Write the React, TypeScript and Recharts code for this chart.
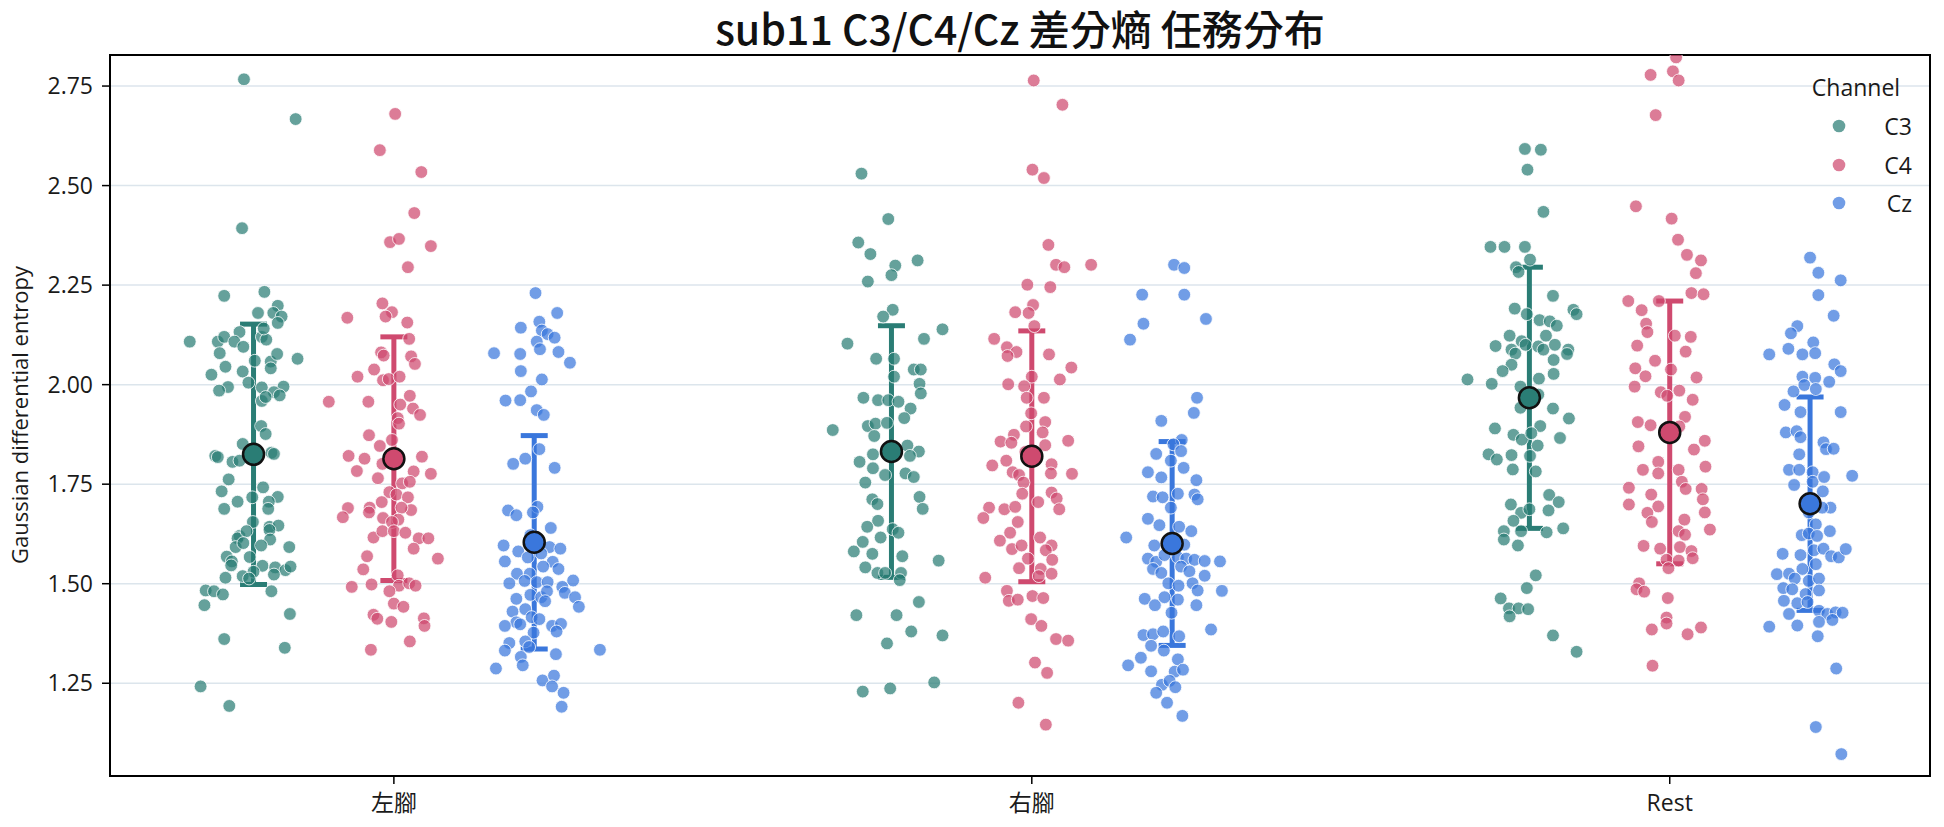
import React from 'react';
import { ComposedChart, Scatter, XAxis, YAxis, CartesianGrid, ErrorBar, ReferenceArea } from 'recharts';

// ---- categories / axes ----
const CONDITIONS = ['左腳', '右腳', 'Rest'];
const CHANNELS = ['C3', 'C4', 'Cz'];
const CHANNEL_SHIFT = [-0.22, 0, 0.22];
const Y_TICKS = [1.25, 1.5, 1.75, 2.0, 2.25, 2.5, 2.75];
const X_DOMAIN: [number, number] = [-0.445, 2.408];
const Y_DOMAIN: [number, number] = [1.017, 2.828];

// ---- per-trial entropy values: [jitter (category units), value] ----
const leftC3: [number, number][] = [[-0.015,2.767],[0.066,2.667],[-0.018,2.393],[-0.046,2.223],[0.017,2.233],[0.038,2.198],[0.007,2.180],[0.031,2.180],[0.044,2.171],[0.038,2.155],[-0.100,2.108],[-0.056,2.108],[-0.046,2.120],[-0.022,2.132],[-0.030,2.108],[-0.016,2.095],[0.013,2.120],[0.020,2.113],[0.016,2.141],[-0.053,2.079],[0.002,2.060],[0.027,2.058],[0.037,2.077],[0.069,2.065],[-0.044,2.045],[-0.017,2.033],[-0.066,2.025],[0.027,2.041],[-0.040,1.994],[-0.054,1.985],[-0.008,2.005],[0.013,1.993],[0.047,1.995],[0.032,1.981],[0.041,1.973],[0.013,1.959],[0.019,1.969],[0.012,1.896],[0.019,1.876],[-0.017,1.851],[-0.060,1.821],[-0.056,1.818],[-0.033,1.806],[-0.022,1.809],[0.028,1.829],[0.032,1.826],[-0.039,1.762],[-0.050,1.732],[0.015,1.742],[-0.025,1.706],[-0.002,1.717],[0.038,1.718],[0.024,1.706],[-0.046,1.688],[0.023,1.688],[-0.001,1.655],[0.025,1.643],[0.039,1.646],[0.025,1.635],[-0.022,1.620],[-0.025,1.614],[-0.011,1.632],[0.026,1.611],[0.012,1.596],[-0.028,1.592],[0.056,1.592],[-0.016,1.602],[-0.042,1.568],[-0.034,1.556],[-0.006,1.567],[-0.035,1.546],[0.014,1.545],[0.034,1.541],[0.050,1.534],[0.058,1.543],[0.032,1.523],[0.000,1.530],[-0.017,1.519],[-0.044,1.515],[-0.007,1.513],[-0.075,1.483],[-0.062,1.481],[-0.048,1.473],[0.028,1.481],[-0.077,1.446],[0.057,1.424],[-0.046,1.361],[0.049,1.339],[-0.083,1.242],[-0.038,1.193]];

const leftC4: [number, number][] = [[0.002,2.680],[-0.022,2.589],[0.043,2.534],[0.032,2.431],[-0.006,2.358],[0.008,2.366],[0.058,2.348],[0.022,2.295],[-0.018,2.204],[-0.003,2.182],[-0.073,2.168],[-0.013,2.171],[0.021,2.156],[0.024,2.115],[-0.020,2.081],[-0.016,2.073],[0.027,2.071],[0.033,2.052],[-0.057,2.020],[-0.031,2.038],[-0.017,2.011],[-0.008,2.014],[0.009,2.020],[-0.102,1.957],[-0.040,1.957],[0.025,1.972],[0.010,1.950],[0.030,1.940],[0.041,1.924],[0.006,1.916],[0.008,1.902],[-0.039,1.873],[-0.003,1.861],[-0.022,1.846],[-0.071,1.821],[-0.046,1.814],[-0.018,1.801],[0.044,1.819],[-0.058,1.783],[-0.025,1.765],[0.031,1.782],[0.058,1.776],[0.013,1.752],[0.025,1.756],[-0.007,1.730],[0.004,1.724],[0.022,1.717],[-0.072,1.690],[-0.080,1.667],[-0.038,1.691],[-0.039,1.679],[-0.019,1.705],[0.027,1.685],[0.012,1.691],[-0.017,1.665],[0.007,1.661],[-0.003,1.655],[-0.032,1.616],[-0.018,1.632],[0.000,1.632],[0.018,1.628],[0.039,1.614],[0.054,1.614],[0.031,1.588],[0.069,1.563],[-0.042,1.569],[-0.048,1.536],[0.006,1.521],[-0.066,1.492],[-0.035,1.498],[0.008,1.495],[0.024,1.501],[0.034,1.495],[-0.007,1.481],[0.000,1.450],[0.015,1.442],[-0.032,1.422],[-0.026,1.412],[-0.004,1.404],[0.047,1.413],[0.048,1.394],[0.025,1.355],[-0.036,1.334]];

const leftCz: [number, number][] = [[0.002,2.230],[0.036,2.180],[-0.021,2.143],[0.008,2.158],[0.012,2.136],[0.021,2.127],[0.032,2.118],[0.004,2.108],[0.009,2.089],[-0.063,2.079],[-0.022,2.077],[0.038,2.082],[0.056,2.055],[-0.021,2.034],[0.012,2.013],[-0.005,1.983],[-0.045,1.960],[-0.022,1.961],[0.004,1.936],[0.015,1.924],[0.008,1.838],[-0.014,1.814],[-0.033,1.801],[0.032,1.791],[-0.041,1.684],[-0.028,1.672],[0.005,1.693],[-0.002,1.679],[0.026,1.640],[-0.006,1.622],[-0.048,1.596],[-0.025,1.581],[0.024,1.592],[0.041,1.588],[-0.046,1.556],[-0.010,1.566],[0.011,1.576],[0.029,1.555],[0.038,1.537],[-0.027,1.525],[-0.007,1.525],[0.014,1.543],[-0.039,1.501],[-0.015,1.507],[0.004,1.504],[0.021,1.504],[0.061,1.508],[0.044,1.492],[0.048,1.477],[-0.028,1.462],[-0.006,1.472],[0.011,1.466],[0.020,1.481],[0.064,1.466],[0.070,1.442],[-0.034,1.430],[-0.014,1.436],[0.017,1.456],[-0.028,1.403],[-0.004,1.416],[0.008,1.411],[-0.046,1.394],[-0.022,1.398],[0.028,1.394],[0.042,1.399],[0.035,1.380],[-0.001,1.377],[-0.039,1.351],[-0.014,1.355],[-0.046,1.332],[-0.008,1.341],[-0.021,1.316],[-0.018,1.295],[0.034,1.323],[0.103,1.334],[-0.060,1.287],[0.013,1.257],[0.031,1.269],[0.028,1.242],[0.046,1.226],[0.043,1.191]];

const rightC3: [number, number][] = [[-0.047,2.530],[-0.005,2.416],[-0.052,2.357],[-0.033,2.328],[0.006,2.299],[0.041,2.312],[0.000,2.275],[-0.037,2.259],[0.002,2.188],[-0.013,2.171],[0.080,2.139],[-0.069,2.103],[0.051,2.115],[-0.024,2.065],[0.004,2.065],[0.035,2.038],[0.046,2.038],[0.004,2.020],[0.044,2.002],[-0.044,1.967],[-0.021,1.961],[-0.005,1.961],[0.011,1.957],[0.046,1.978],[0.030,1.940],[0.020,1.916],[-0.037,1.896],[-0.025,1.902],[-0.007,1.904],[-0.092,1.886],[-0.027,1.871],[0.025,1.847],[0.043,1.832],[-0.029,1.825],[0.029,1.821],[-0.050,1.806],[-0.029,1.790],[-0.010,1.773],[0.022,1.777],[0.035,1.768],[-0.041,1.754],[-0.030,1.712],[-0.022,1.700],[0.044,1.718],[0.049,1.688],[-0.021,1.658],[-0.038,1.643],[0.002,1.637],[0.011,1.628],[-0.017,1.616],[-0.045,1.605],[-0.059,1.581],[-0.030,1.575],[0.017,1.569],[0.074,1.558],[-0.041,1.541],[-0.022,1.527],[-0.010,1.527],[0.015,1.527],[0.013,1.509],[0.043,1.454],[-0.055,1.421],[0.008,1.421],[0.031,1.380],[-0.007,1.350],[0.080,1.370],[-0.045,1.229],[-0.002,1.237],[0.067,1.252]];

const rightC4: [number, number][] = [[0.003,2.764],[0.048,2.703],[0.001,2.540],[0.019,2.519],[0.026,2.351],[0.038,2.301],[0.051,2.295],[0.093,2.301],[-0.007,2.251],[0.029,2.245],[0.002,2.200],[-0.026,2.182],[-0.005,2.180],[0.004,2.147],[-0.059,2.115],[-0.039,2.094],[-0.024,2.082],[-0.038,2.072],[0.027,2.076],[0.062,2.043],[0.000,2.020],[0.044,2.013],[-0.037,2.001],[-0.012,1.996],[0.019,1.967],[-0.008,1.967],[-0.001,1.928],[-0.009,1.895],[0.021,1.906],[0.017,1.880],[-0.028,1.874],[-0.049,1.857],[-0.032,1.854],[0.021,1.848],[0.057,1.859],[-0.062,1.797],[-0.040,1.809],[-0.010,1.831],[0.031,1.800],[-0.030,1.780],[-0.020,1.773],[0.030,1.777],[0.063,1.776],[-0.013,1.754],[-0.015,1.726],[0.031,1.729],[0.039,1.714],[0.010,1.705],[-0.067,1.691],[-0.043,1.687],[-0.026,1.693],[0.043,1.687],[-0.076,1.665],[-0.022,1.655],[-0.034,1.628],[-0.050,1.608],[0.013,1.616],[0.031,1.596],[-0.031,1.587],[-0.016,1.596],[0.022,1.584],[0.032,1.560],[-0.006,1.563],[-0.020,1.539],[0.014,1.537],[0.031,1.525],[-0.073,1.515],[0.011,1.519],[-0.039,1.482],[-0.036,1.457],[-0.022,1.460],[0.001,1.469],[0.018,1.464],[-0.001,1.411],[0.015,1.394],[0.038,1.361],[0.057,1.357],[0.005,1.302],[0.024,1.276],[-0.021,1.201],[0.022,1.146]];

const rightCz: [number, number][] = [[0.003,2.301],[0.019,2.293],[-0.047,2.226],[0.019,2.226],[-0.045,2.153],[0.053,2.165],[-0.066,2.113],[0.039,1.967],[0.034,1.929],[-0.017,1.909],[0.015,1.861],[0.002,1.850],[-0.025,1.826],[0.014,1.833],[0.018,1.791],[-0.002,1.809],[-0.038,1.780],[-0.017,1.767],[0.038,1.760],[0.009,1.726],[-0.030,1.719],[-0.015,1.717],[0.035,1.724],[0.040,1.712],[-0.002,1.691],[-0.038,1.663],[-0.020,1.647],[0.011,1.643],[0.030,1.632],[-0.072,1.616],[-0.028,1.596],[0.019,1.598],[-0.038,1.563],[-0.025,1.555],[-0.012,1.572],[0.009,1.566],[0.022,1.563],[0.035,1.560],[0.051,1.557],[0.075,1.556],[-0.030,1.537],[-0.017,1.527],[0.014,1.543],[0.027,1.531],[0.051,1.520],[-0.006,1.501],[0.010,1.495],[0.032,1.501],[0.040,1.483],[0.078,1.482],[-0.043,1.462],[-0.027,1.446],[-0.012,1.466],[0.009,1.460],[0.038,1.446],[-0.001,1.427],[0.061,1.385],[-0.045,1.371],[-0.030,1.373],[-0.014,1.380],[0.011,1.368],[-0.033,1.344],[-0.013,1.332],[-0.049,1.314],[0.009,1.310],[-0.069,1.295],[-0.033,1.280],[0.004,1.279],[0.017,1.284],[-0.016,1.246],[-0.004,1.256],[0.005,1.240],[-0.025,1.226],[-0.008,1.201],[0.016,1.168]];

const restC3: [number, number][] = [[-0.007,2.592],[0.018,2.590],[-0.003,2.540],[0.022,2.434],[-0.061,2.346],[-0.039,2.346],[-0.007,2.346],[0.001,2.314],[-0.021,2.295],[-0.017,2.283],[0.037,2.223],[-0.023,2.191],[-0.004,2.177],[0.016,2.162],[0.069,2.188],[0.074,2.177],[0.032,2.159],[0.043,2.148],[-0.031,2.123],[-0.012,2.109],[0.026,2.123],[-0.053,2.097],[-0.028,2.088],[-0.006,2.100],[0.014,2.096],[0.022,2.088],[0.040,2.100],[0.061,2.088],[-0.022,2.078],[0.059,2.077],[0.038,2.062],[-0.028,2.050],[-0.042,2.034],[0.038,2.027],[0.015,2.015],[-0.097,2.013],[-0.059,2.002],[-0.014,1.995],[0.014,1.975],[-0.014,1.942],[0.037,1.940],[0.062,1.915],[0.017,1.896],[-0.054,1.890],[-0.025,1.874],[-0.012,1.862],[0.003,1.878],[0.048,1.866],[0.013,1.847],[-0.064,1.825],[-0.051,1.812],[-0.028,1.823],[0.001,1.821],[-0.026,1.787],[0.010,1.782],[0.031,1.723],[0.046,1.705],[-0.029,1.699],[-0.013,1.678],[0.000,1.687],[0.030,1.684],[-0.025,1.658],[-0.040,1.632],[-0.013,1.632],[0.027,1.629],[0.053,1.639],[-0.040,1.611],[-0.018,1.596],[0.010,1.521],[-0.004,1.489],[-0.045,1.463],[-0.032,1.438],[-0.017,1.438],[-0.002,1.436],[-0.031,1.418],[0.037,1.370],[0.074,1.329]];

const restC4: [number, number][] = [[0.010,2.822],[-0.030,2.778],[0.005,2.787],[0.014,2.764],[-0.022,2.677],[-0.053,2.448],[0.003,2.417],[0.013,2.364],[0.027,2.326],[0.049,2.312],[0.041,2.280],[0.034,2.230],[0.053,2.227],[-0.065,2.210],[-0.017,2.210],[-0.044,2.187],[-0.037,2.153],[-0.035,2.132],[0.008,2.123],[0.033,2.120],[-0.051,2.098],[0.025,2.083],[-0.023,2.060],[-0.054,2.041],[0.002,2.038],[-0.038,2.021],[0.042,2.018],[-0.055,1.995],[-0.014,1.981],[0.015,1.985],[-0.004,1.972],[0.036,1.962],[0.024,1.919],[-0.050,1.906],[-0.030,1.898],[0.015,1.895],[-0.049,1.845],[0.038,1.837],[0.055,1.859],[-0.018,1.806],[0.056,1.794],[-0.042,1.786],[-0.018,1.777],[0.014,1.786],[0.019,1.756],[-0.064,1.741],[-0.029,1.724],[0.025,1.738],[0.050,1.738],[0.052,1.712],[-0.064,1.699],[-0.018,1.694],[-0.035,1.678],[0.055,1.679],[-0.028,1.655],[0.023,1.661],[0.063,1.636],[0.014,1.632],[0.024,1.623],[-0.041,1.595],[-0.015,1.588],[0.016,1.592],[0.034,1.582],[-0.005,1.560],[0.014,1.558],[0.036,1.564],[-0.002,1.539],[-0.048,1.501],[-0.052,1.486],[-0.040,1.480],[-0.003,1.464],[-0.005,1.415],[-0.005,1.400],[-0.028,1.385],[0.028,1.373],[0.049,1.390],[-0.027,1.294]];

const restCz: [number, number][] = [[0.000,2.319],[0.013,2.281],[0.048,2.262],[0.013,2.225],[0.037,2.173],[-0.020,2.147],[-0.030,2.129],[0.005,2.106],[-0.034,2.090],[-0.012,2.076],[0.008,2.079],[-0.064,2.076],[0.038,2.051],[0.048,2.034],[-0.012,2.020],[0.008,2.017],[0.030,2.007],[-0.026,1.983],[-0.009,1.999],[0.009,1.989],[-0.040,1.949],[-0.015,1.931],[0.048,1.931],[-0.038,1.880],[-0.021,1.883],[-0.015,1.868],[0.021,1.855],[0.025,1.838],[0.037,1.839],[-0.017,1.825],[-0.033,1.786],[-0.017,1.786],[0.004,1.780],[0.066,1.771],[-0.025,1.748],[0.004,1.756],[0.022,1.768],[0.020,1.732],[0.032,1.691],[-0.002,1.679],[0.019,1.691],[0.009,1.649],[-0.013,1.622],[-0.002,1.626],[0.011,1.620],[0.031,1.632],[-0.043,1.575],[-0.015,1.572],[0.006,1.584],[0.021,1.588],[0.033,1.569],[0.045,1.566],[0.056,1.587],[-0.052,1.524],[-0.033,1.525],[-0.012,1.537],[0.009,1.549],[-0.024,1.513],[-0.002,1.507],[0.014,1.513],[-0.042,1.489],[-0.028,1.486],[-0.007,1.474],[0.014,1.483],[-0.041,1.457],[-0.020,1.451],[-0.004,1.454],[-0.033,1.424],[0.014,1.432],[0.027,1.424],[0.040,1.428],[0.051,1.427],[-0.064,1.392],[-0.020,1.395],[0.014,1.404],[0.035,1.409],[0.012,1.368],[0.041,1.287],[0.009,1.140],[0.049,1.072]];

// ---- summary statistics per channel (左腳, 右腳, Rest) ----
const MEAN_C3 = [1.825, 1.832, 1.967];
const SD_C3 = [0.327, 0.316, 0.328];
const MEAN_C4 = [1.814, 1.820, 1.880];
const SD_C4 = [0.306, 0.315, 0.330];
const MEAN_CZ = [1.604, 1.601, 1.701];
const SD_CZ = [0.268, 0.256, 0.268];

const COLORS = ['#2a7d75', '#cf4a6f', '#3a77dc'];
const FONT = '"Open Sans", "Noto Sans CJK TC", sans-serif';
const TITLE_FONT = '"Noto Sans CJK TC", "Noto Sans", sans-serif';
const W = 1928;
const H = 811;

const TRIALS = [
  [leftC3, rightC3, restC3],
  [leftC4, rightC4, restC4],
  [leftCz, rightCz, restCz],
];
const MEANS = [MEAN_C3, MEAN_C4, MEAN_CZ];
const SDS = [SD_C3, SD_C4, SD_CZ];

function trialPoints(ch: number) {
  const out: { x: number; y: number }[] = [];
  TRIALS[ch].forEach((group, cond) => {
    group.forEach(([jit, val]) => {
      out.push({ x: cond + CHANNEL_SHIFT[ch] + jit, y: val });
    });
  });
  return out;
}

function summaryPoints(ch: number) {
  return MEANS[ch].map((m, cond) => ({ x: cond + CHANNEL_SHIFT[ch], y: m, sd: SDS[ch][cond] }));
}

const dotShape = (color: string) => (props: any) => (
  <circle cx={props.cx} cy={props.cy} r={6.4} fill={color} fillOpacity={0.72} stroke="#ffffff" strokeWidth={0.8} />
);
const meanShape = (color: string) => (props: any) => (
  <circle cx={props.cx} cy={props.cy} r={10.5} fill={color} stroke="#111111" strokeWidth={2.5} />
);
const emptyShape = () => <g />;

function ChannelLegend() {
  const rows = [126, 165, 203];
  return (
    <>
      <div style={{ position: 'absolute', left: 1778, top: 64, width: 140, textAlign: 'center', fontSize: 23, lineHeight: '30px', color: '#1a1a1a' }}>
        Channel
      </div>
      {CHANNELS.map((c, i) => (
        <React.Fragment key={c}>
          <svg style={{ position: 'absolute', left: 1824, top: rows[i] - 8 - 7 }} width={14} height={14}>
            <circle cx={7} cy={7} r={6.3} fill={COLORS[i]} fillOpacity={0.72} />
          </svg>
          <div style={{ position: 'absolute', left: 1856, top: rows[i] - 8 - 15, width: 48, textAlign: 'right', fontSize: 23, lineHeight: '30px', color: '#1a1a1a' }}>
            {c}
          </div>
        </React.Fragment>
      ))}
    </>
  );
}

export default function App() {
  return (
    <div style={{ position: 'relative', width: W, height: H, fontFamily: FONT }}>
      <div style={{ position: 'absolute', left: 512, top: -4, width: 1000, textAlign: 'center', fontFamily: TITLE_FONT, fontSize: 41, fontWeight: 500, lineHeight: '46px', color: '#111' }}>
        sub11 C3/C4/Cz 差分熵 任務分布
      </div>
      <div style={{ position: 'absolute', left: 11 - 250, top: 407 - 15, width: 500, height: 30, lineHeight: '30px', textAlign: 'center', fontSize: 22, color: '#1a1a1a', transform: 'rotate(-90deg)', transformOrigin: '50% 50%' }}>
        Gaussian differential entropy
      </div>
      <ComposedChart width={W} height={H} margin={{ top: 47, right: 6, bottom: 0, left: 0 }}>
        <CartesianGrid vertical={false} stroke="#dce5ec" strokeWidth={1.5} />
        <XAxis
          type="number"
          dataKey="x"
          domain={X_DOMAIN}
          allowDataOverflow
          ticks={[0, 1, 2]}
          interval={0}
          tickFormatter={(v: number) => CONDITIONS[v]}
          height={43}
          tickSize={8}
          tickMargin={11}
          axisLine={{ stroke: '#000', strokeWidth: 2 }}
          tickLine={{ stroke: '#000', strokeWidth: 1.5 }}
          tick={{ fill: '#1a1a1a', fontSize: 23, fontFamily: FONT }}
        />
        <YAxis
          type="number"
          dataKey="y"
          domain={Y_DOMAIN}
          allowDataOverflow
          ticks={Y_TICKS}
          interval={0}
          tickFormatter={(v: number) => v.toFixed(2)}
          width={102}
          tickSize={8}
          tickMargin={9}
          axisLine={{ stroke: '#000', strokeWidth: 2 }}
          tickLine={{ stroke: '#000', strokeWidth: 1.5 }}
          tick={{ fill: '#1a1a1a', fontSize: 23, fontFamily: FONT }}
        />
        {CHANNELS.map((c, i) => (
          <Scatter key={`trials-${c}`} name={c} data={trialPoints(i)} dataKey="y" shape={dotShape(COLORS[i])} isAnimationActive={false} />
        ))}
        {CHANNELS.map((c, i) => (
          <Scatter key={`sd-${c}`} data={summaryPoints(i)} dataKey="y" shape={emptyShape} isAnimationActive={false}>
            <ErrorBar dataKey="sd" direction="y" width={13.5} stroke={COLORS[i]} strokeWidth={5} isAnimationActive={false} />
          </Scatter>
        ))}
        {CHANNELS.map((c, i) => (
          <Scatter key={`mean-${c}`} data={summaryPoints(i)} dataKey="y" shape={meanShape(COLORS[i])} isAnimationActive={false} />
        ))}
        {/* frame around the plotting area */}
        <ReferenceArea x1={X_DOMAIN[0]} x2={X_DOMAIN[1]} y1={Y_DOMAIN[0]} y2={Y_DOMAIN[1]} fill="none" stroke="#000" strokeWidth={2} ifOverflow="visible" />
      </ComposedChart>
      <ChannelLegend />
    </div>
  );
}
